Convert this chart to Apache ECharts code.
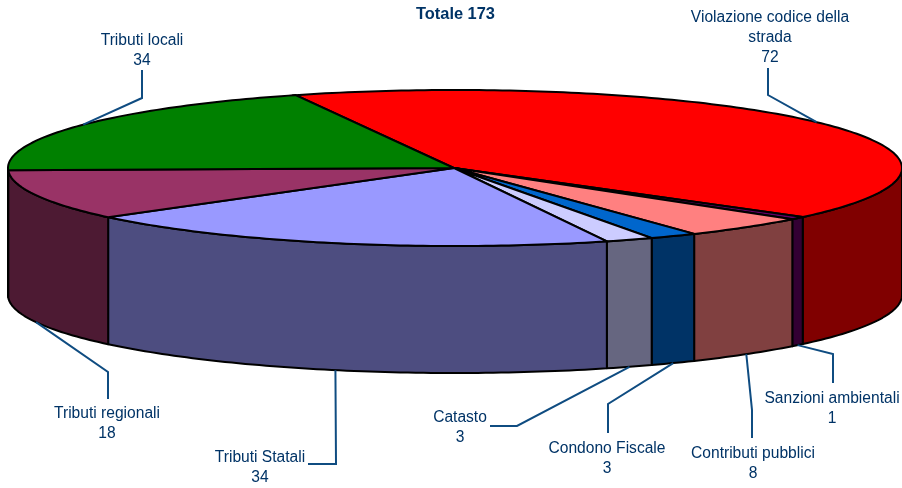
<!DOCTYPE html>
<html>
<head>
<meta charset="utf-8">
<script src="https://cdn.jsdelivr.net/npm/echarts@6/dist/echarts.min.js"></script>
<style>
html, body { margin: 0; padding: 0; background: #fff; }
#chart { width: 902px; height: 488px; }
</style>
</head>
<body>
<div id="chart"></div>
<script>
const categories = [
  "Violazione codice della\nstrada",
  "Sanzioni ambientali",
  "Contributi pubblici",
  "Condono Fiscale",
  "Catasto",
  "Tributi Statali",
  "Tributi regionali",
  "Tributi locali",
];
const values = [72, 1, 8, 3, 3, 34, 18, 34];
const titleText = "Totale 173";

const topColors = ["#FF0000", "#660066", "#FF8080", "#0066CC", "#CCCCFF", "#9999FF", "#993366", "#008000"];
const sideColors = ["#800000", "#330033", "#804040", "#003366", "#666680", "#4D4D80", "#4D1A33", "#004000"];
const textColor = "#003366";

// ellipse of the pie top, in pixels
const cx = 455, cy = 168, rx = 447, ry = 78, depth = 127;
const startAngle = 249.1;

// elbow and end of each leader line, then the centre of its label
const labelLayout = [
  { line: [[768, 95], [768, 68]], text: [770, 37] },
  { line: [[833, 354], [833, 383]], text: [832, 408] },
  { line: [[752, 410], [752, 438]], text: [753, 463] },
  { line: [[608, 404], [608, 433]], text: [607, 458] },
  { line: [[517, 426], [490, 426]], text: [460, 427] },
  { line: [[336, 464], [308, 464]], text: [260, 467] },
  { line: [[108, 372], [108, 399]], text: [107, 423] },
  { line: [[142, 98], [142, 70]], text: [142, 50] },
];

const total = values.reduce((a, b) => a + b, 0);
const ranges = [];
let acc = startAngle;
values.forEach((v) => {
  const sweep = (v / total) * 360;
  ranges.push([acc, acc + sweep]);
  acc += sweep;
});

function rim(deg, offset) {
  const t = (deg * Math.PI) / 180;
  return [cx + rx * Math.cos(t), cy + ry * Math.sin(t) + (offset || 0)];
}

function arc(from, to, offset) {
  const pts = [];
  const n = Math.max(2, Math.ceil(Math.abs(to - from)));
  for (let i = 0; i <= n; i++) {
    pts.push(rim(from + ((to - from) * i) / n, offset));
  }
  return pts;
}

// part of a slice that faces the viewer, angles in 0..180
function frontRange(r) {
  let a = r[0], b = r[1];
  if (a >= 360) { a -= 360; b -= 360; }
  if (b > 360) { a = 0; b -= 360; }
  a = Math.max(a, 0);
  b = Math.min(b, 180);
  return a < b ? [a, b] : null;
}

function renderSide(params, api) {
  const i = params.dataIndex;
  const f = frontRange(ranges[i]);
  if (!f || !api.value(0)) return null;
  const pts = arc(f[0], f[1], 0).concat(arc(f[1], f[0], depth));
  return {
    type: "polygon",
    shape: { points: pts },
    style: { fill: sideColors[i], stroke: "#000", lineWidth: 2, lineJoin: "round" },
  };
}

function renderTop(params, api) {
  const i = params.dataIndex;
  if (!api.value(0)) return null;
  const pts = [[cx - 1, cy]].concat(arc(ranges[i][0], ranges[i][1], 0));
  return {
    type: "polygon",
    shape: { points: pts },
    style: { fill: topColors[i], stroke: "#000", lineWidth: 2, lineJoin: "miter" },
  };
}

function renderLabel(params, api) {
  const i = params.dataIndex;
  const mid = (ranges[i][0] + ranges[i][1]) / 2;
  const m = mid % 360;
  const anchor = rim(m, m > 0 && m < 180 ? depth : 0);
  const layout = labelLayout[i];
  return {
    type: "group",
    children: [
      {
        type: "polyline",
        shape: { points: [anchor].concat(layout.line) },
        style: { fill: null, stroke: "#0F4C81", lineWidth: 2 },
      },
      {
        type: "text",
        x: layout.text[0],
        y: layout.text[1] + 1,
        style: {
          text: categories[i] + "\n" + api.value(0),
          fill: textColor,
          font: '15.6px "Liberation Sans", Arial, sans-serif',
          lineHeight: 20,
          align: "center",
          verticalAlign: "middle",
        },
      },
    ],
  };
}

const chart = echarts.init(document.getElementById("chart"), null, { renderer: "canvas" });
chart.setOption({
  animation: false,
  backgroundColor: "#fff",
  title: {
    text: titleText,
    left: 411,
    top: 1,
    textStyle: {
      color: textColor,
      fontSize: 16.4,
      fontWeight: "bold",
      fontFamily: '"Liberation Sans", Arial, sans-serif',
    },
  },
  tooltip: { show: false },
  series: [
    { type: "custom", coordinateSystem: "none", silent: true, z: 1, renderItem: renderSide, data: values },
    { type: "custom", coordinateSystem: "none", silent: true, z: 2, renderItem: renderTop, data: values },
    { type: "custom", coordinateSystem: "none", silent: true, z: 3, renderItem: renderLabel, data: values },
  ],
});
</script>
</body>
</html>
